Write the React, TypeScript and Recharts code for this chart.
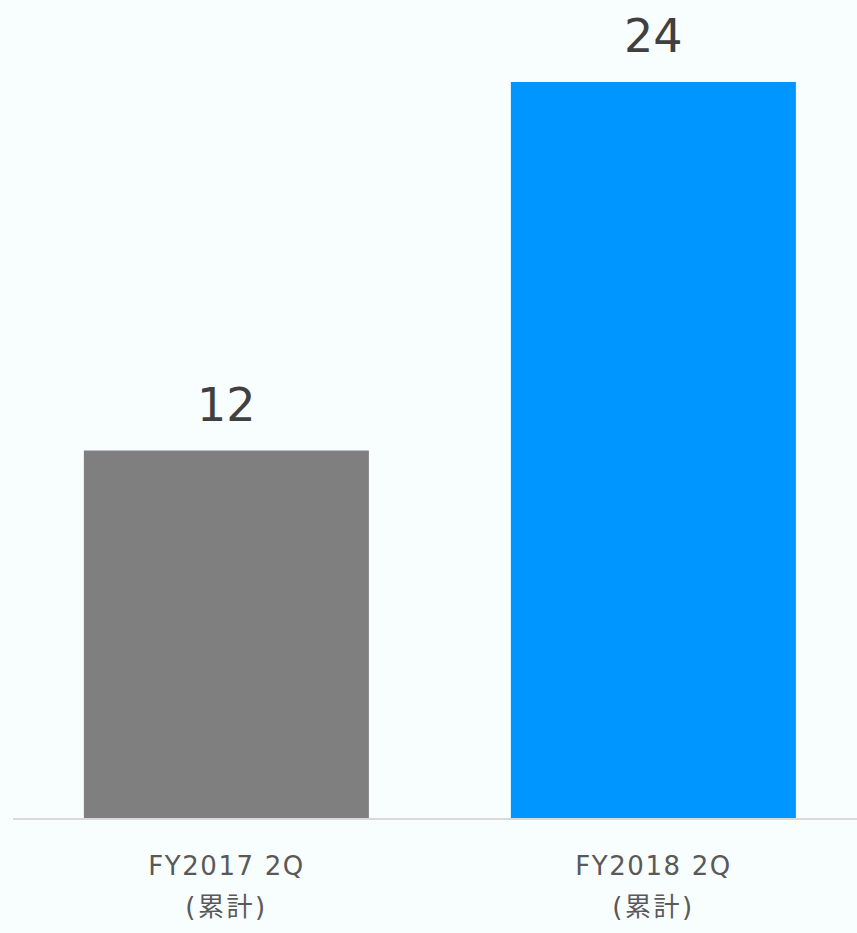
import React from "react";
import { BarChart, Bar, XAxis, YAxis, Cell, LabelList } from "recharts";

const categories = ["FY2017 2Q", "FY2018 2Q"];
const subLabels = ["(累計)", "(累計)"];
const values = [12, 24];
const barColors = ["#7F7F7F", "#0096FF"];

const data = categories.map((name, i) => ({ name, sub: subLabels[i], value: values[i] }));

const FONT = '"DejaVu Sans", Verdana, "Noto Sans CJK JP", sans-serif';

function CategoryTick(props: any) {
  const { x, y, payload, index } = props;
  return (
    <g transform={`translate(${x},${y})`}>
      <text textAnchor="middle" fill="#595959" fontSize={26} letterSpacing={1.6} fontFamily={FONT}>
        <tspan x={0} dy={48}>{payload.value}</tspan>
        <tspan x={0} dy={41} letterSpacing={2.5}>{subLabels[index]}</tspan>
      </text>
    </g>
  );
}

export default function App() {
  return (
    <div
      style={{
        position: "absolute",
        left: 0,
        top: 0,
        width: 857,
        height: 933,
        overflow: "hidden",
        background: "#F8FDFE",
      }}
    >
      <BarChart
        width={867}
        height={933}
        data={data}
        margin={{ top: 82, right: 0, bottom: 0, left: 13 }}
        barCategoryGap="16.6%"
      >
        <XAxis
          dataKey="name"
          axisLine={{ stroke: "#D9D9D9", strokeWidth: 2 }}
          tickLine={false}
          tick={<CategoryTick />}
          height={114}
          interval={0}
        />
        <YAxis hide domain={[0, 24]} />
        <Bar dataKey="value" isAnimationActive={false}>
          {data.map((_d, i) => (
            <Cell key={`cell-${i}`} fill={barColors[i]} />
          ))}
          <LabelList
            dataKey="value"
            position="top"
            offset={30}
            fill="#404040"
            fontSize={46}
            fontFamily={FONT}
          />
        </Bar>
      </BarChart>
    </div>
  );
}
